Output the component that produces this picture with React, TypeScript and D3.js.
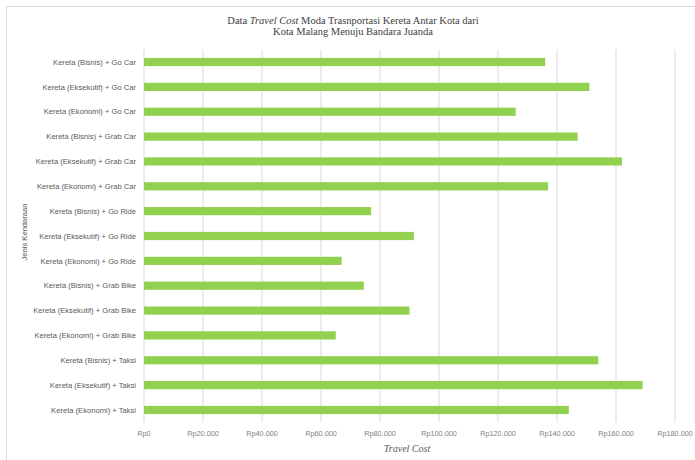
import React from "react";
import * as d3 from "d3";

const categories = [
  "Kereta (Bisnis) + Go Car",
  "Kereta (Eksekutif) + Go Car",
  "Kereta (Ekonomi) + Go Car",
  "Kereta (Bisnis) + Grab Car",
  "Kereta (Eksekutif) + Grab Car",
  "Kereta (Ekonomi) + Grab Car",
  "Kereta (Bisnis) + Go Ride",
  "Kereta (Eksekutif) + Go Ride",
  "Kereta (Ekonomi) + Go Ride",
  "Kereta (Bisnis) + Grab Bike",
  "Kereta (Eksekutif) + Grab Bike",
  "Kereta (Ekonomi) + Grab Bike",
  "Kereta (Bisnis) + Taksi",
  "Kereta (Eksekutif) + Taksi",
  "Kereta (Ekonomi) + Taksi",
];
const values = [
  136000, 151000, 126000, 147000, 162000, 137000, 77000, 91500, 67000, 74500,
  90000, 65000, 154000, 169000, 144000,
];
const ticks = [0, 20000, 40000, 60000, 80000, 100000, 120000, 140000, 160000, 180000];
const titleLine1 = ["Data ", "Travel Cost", " Moda Trasnportasi Kereta Antar Kota dari"];
const titleLine2 = "Kota Malang Menuju Bandara Juanda";
const xTitle = "Travel Cost";
const yTitle = "Jenis Kendaraan";

const fmt = (v: number) => "Rp" + d3.format(",")(v).replace(/,/g, ".");

export default function App() {
  const W = 695, H = 460;
  const left = 144, right = 675, top = 49.6, bottom = 422.4;
  const x = d3.scaleLinear().domain([0, 180000]).range([left, right]);
  const y = d3.scaleBand().domain(categories).range([top, bottom]).paddingInner(0.67).paddingOuter(0.335);
  const sans = "'Liberation Sans', Arial, sans-serif";
  const serif = "'Liberation Serif', 'Times New Roman', serif";
  return (
    <svg width={W} height={H} style={{ position: "absolute", left: 0, top: 0 }}>
      <rect x={0} y={0} width={W} height={H} fill="#fff" />
      <rect x={6.5} y={6.5} width={720} height={480} fill="none" stroke="#d9d9d9" />
      <text x={353} y={24} textAnchor="middle" fontFamily={serif} fontSize={10.5} fill="#404040">
        <tspan>{titleLine1[0]}</tspan>
        <tspan fontStyle="italic">{titleLine1[1]}</tspan>
        <tspan>{titleLine1[2]}</tspan>
      </text>
      <text x={353} y={35} textAnchor="middle" fontFamily={serif} fontSize={10.5} fill="#404040">
        {titleLine2}
      </text>
      {ticks.map((t) => (
        <g key={t}>
          <line x1={x(t)} x2={x(t)} y1={top} y2={bottom} stroke="#d9d9d9" strokeWidth={1} />
          <text x={x(t)} y={436} textAnchor="middle" fontFamily={sans} fontSize={7.3} fill="#7f7f7f">
            {fmt(t)}
          </text>
        </g>
      ))}
      {categories.map((c, i) => (
        <g key={c}>
          <rect
            x={x(0)}
            y={y(c)!}
            width={x(values[i]) - x(0)}
            height={y.bandwidth()}
            fill="#92D050"
          />
          <text
            x={136}
            y={y(c)! + y.bandwidth() / 2}
            dy="0.35em"
            textAnchor="end"
            fontFamily={sans}
            fontSize={7.6}
            fill="#595959"
          >
            {c}
          </text>
        </g>
      ))}
      <text x={407} y={452} textAnchor="middle" fontFamily={serif} fontStyle="italic" fontSize={10} fill="#595959">
        {xTitle}
      </text>
      <text
        transform={`translate(24,232) rotate(-90)`}
        textAnchor="middle"
        dy="0.35em"
        fontFamily={sans}
        fontSize={7.6}
        fill="#595959"
      >
        {yTitle}
      </text>
    </svg>
  );
}
